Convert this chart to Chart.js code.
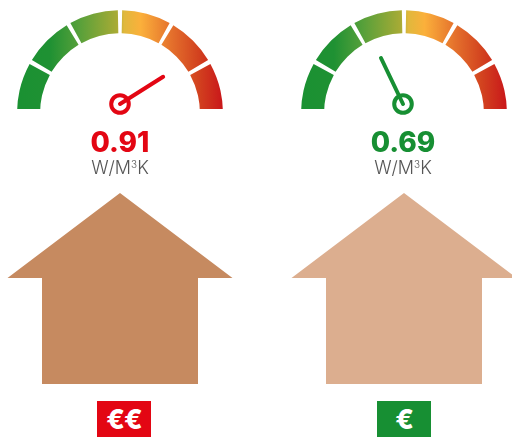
<!DOCTYPE html>
<html lang="en">
<head>
    <meta charset="UTF-8">
    <title>Thermal conductivity gauges</title>
    <script src="https://cdn.jsdelivr.net/npm/chart.js"></script>
    <style>
        html, body { margin: 0; padding: 0; background: #fff; overflow: hidden; }
        body { position: relative; width: 512px; height: 437px; font-family: Inter, Arial, sans-serif; }
        #scene { position: absolute; left: 0; top: 0; }
        .gauge { position: absolute; top: 0; width: 206px; height: 109px; overflow: hidden; }
        .gauge canvas { position: absolute; left: 0; top: 10px; }
        .value, .unit, .badge { position: absolute; text-align: center; }
        .value { top: 124px; width: 120px; font-size: 28px; line-height: 36px; font-weight: 800; }
        .unit { top: 158px; width: 120px; font-size: 18px; line-height: 20px; font-weight: 300; color: #555; }
        .unit sup { font-size: 10px; line-height: 0; vertical-align: 6px; }
        .badge { top: 401px; width: 54px; height: 36px; line-height: 37px; color: #fff; font-size: 27px; font-weight: 800; letter-spacing: -1px; }
    </style>
</head>
<body>
    <div class="gauge" id="g0"><canvas id="gauge0" width="206" height="118"></canvas></div>
    <div class="gauge" id="g1"><canvas id="gauge1" width="206" height="118"></canvas></div>
    <canvas id="scene" width="512" height="437"></canvas>

    <div class="value" id="v0"></div>
    <div class="unit" id="u0">W/M<sup>3</sup>K</div>
    <div class="value" id="v1"></div>
    <div class="unit" id="u1">W/M<sup>3</sup>K</div>
    <div class="badge" id="b0"></div>
    <div class="badge" id="b1"></div>

    <script>
        // chart values
        const readings = [0.91, 0.69];
        const costLabels = ['€€', '€'];
        // outer bands run a little under the baseline, the wrapper crops them flat
        const gaugeBands = [1.15, 1, 1, 1, 1, 1.15];
        const gaugeMin = 0.52;
        const gaugeMax = 0.995;

        // house outline, relative to the ridge point
        const houseX = [0, 112.5, 78, 78, -78, -78, -112.5, 0];
        const houseY = [193, 278, 278, 384, 384, 278, 278, 193];

        const centers = [120, 404];
        const hubs = [120, 403];
        const badgeLeft = [97, 377];
        const readingColors = ['#e30613', '#178f33'];
        const houseColors = ['#c68a60', '#dcae8f'];

        function bandGradient(ctx) {
            const chart = ctx.chart;
            if (!chart.chartArea) return '#1a9132';
            const g = chart.ctx.createLinearGradient(chart.chartArea.left, 0, chart.chartArea.right, 0);
            g.addColorStop(0, '#1a9132');
            g.addColorStop(0.16, '#1f9133');
            g.addColorStop(0.3, '#56a03a');
            g.addColorStop(0.485, '#a8ab35');
            g.addColorStop(0.52, '#e0b83c');
            g.addColorStop(0.6, '#fbb03b');
            g.addColorStop(0.75, '#e4702c');
            g.addColorStop(0.88, '#d2421f');
            g.addColorStop(1, '#c9161a');
            return g;
        }

        readings.forEach(function (r, i) {
            document.getElementById('g' + i).style.left = (centers[i] - 103) + 'px';
            new Chart(document.getElementById('gauge' + i), {
                type: 'doughnut',
                data: {
                    datasets: [{
                        data: gaugeBands,
                        backgroundColor: bandGradient,
                        borderWidth: 0,
                        spacing: 14
                    }]
                },
                options: {
                    responsive: false,
                    animation: false,
                    rotation: -94.5,
                    circumference: 189,
                    cutout: '76%',
                    plugins: { legend: { display: false }, tooltip: { enabled: false } }
                }
            });

            const v = document.getElementById('v' + i);
            v.textContent = r.toFixed(2);
            v.style.color = readingColors[i];
            v.style.left = (hubs[i] - 60) + 'px';
            document.getElementById('u' + i).style.left = (hubs[i] - 60) + 'px';
            const b = document.getElementById('b' + i);
            b.textContent = costLabels[i];
            b.style.background = readingColors[i];
            b.style.left = badgeLeft[i] + 'px';
        });

        // needle end point from the reading
        function needle(value, cx) {
            const a = (value - gaugeMin) / (gaugeMax - gaugeMin) * Math.PI;
            return [{ x: cx, y: 104 }, { x: cx - 51 * Math.cos(a), y: 104 - 51 * Math.sin(a) }];
        }

        const datasets = [];
        centers.forEach(function (cx, i) {
            datasets.push({
                data: houseX.map(function (x, k) { return { x: cx + x, y: houseY[k] }; }),
                showLine: true,
                fill: 'shape',
                backgroundColor: houseColors[i],
                borderWidth: 0,
                pointRadius: 0,
                tension: 0
            });
            datasets.push({
                data: needle(readings[i], hubs[i]),
                showLine: true,
                borderColor: readingColors[i],
                borderWidth: 4,
                borderCapStyle: 'round',
                pointRadius: 0
            });
            datasets.push({
                data: [{ x: hubs[i], y: 104 }],
                pointRadius: 8.8,
                pointBorderWidth: 4,
                pointBorderColor: readingColors[i],
                pointBackgroundColor: '#fff'
            });
        });

        new Chart(document.getElementById('scene'), {
            type: 'scatter',
            data: { datasets: datasets },
            options: {
                responsive: false,
                animation: false,
                layout: { padding: 0, autoPadding: false },
                scales: {
                    x: { type: 'linear', min: 0, max: 512, display: false },
                    y: { type: 'linear', min: 0, max: 437, reverse: true, display: false }
                },
                plugins: { legend: { display: false }, tooltip: { enabled: false } }
            }
        });
    </script>
</body>
</html>
